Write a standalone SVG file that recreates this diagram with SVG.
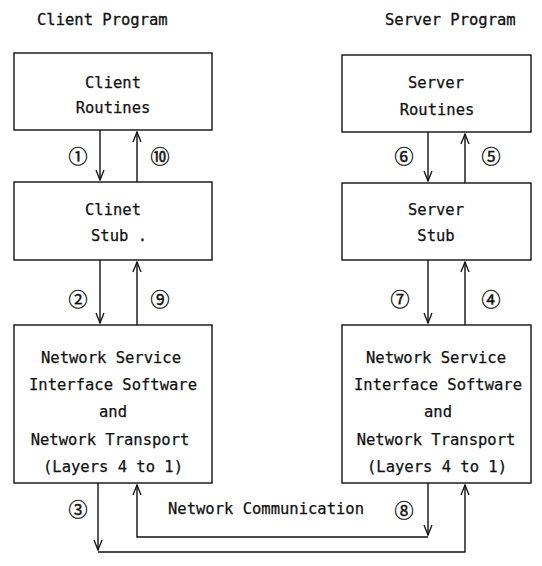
<svg xmlns="http://www.w3.org/2000/svg" width="542" height="566" viewBox="0 0 542 566">
  <defs>
    <style>
      .box { fill: #fff; stroke: #111; stroke-width: 1.4; }
      .t { font-family: "DejaVu Sans Mono", "Liberation Mono", monospace; font-size: 15.5px; fill: #111; text-anchor: middle; stroke: #111; stroke-width: 0.25; }
      .h { font-family: "DejaVu Sans Mono", "Liberation Mono", monospace; font-size: 15.5px; fill: #111; stroke: #111; stroke-width: 0.3; }
      .n { font-family: "Noto Sans CJK SC", "DejaVu Sans", sans-serif; font-size: 19px; fill: #111; text-anchor: middle; dominant-baseline: central; stroke: #111; stroke-width: 0.4; }
      .ln { fill: none; stroke: #111; stroke-width: 1.4; }
    </style>
    <!-- open chevron head, drawn along +x so orient="auto" follows the line -->
    <marker id="head" viewBox="0 0 12 10" refX="11" refY="5" markerWidth="12" markerHeight="10" markerUnits="userSpaceOnUse" orient="auto">
      <path d="M1,1 L11,5 L1,9" fill="none" stroke="#111" stroke-width="1.3"/>
    </marker>
  </defs>
  <rect width="542" height="566" fill="#fff"/>

  <text class="h" x="37" y="25">Client  Program</text>
  <text class="h" x="385" y="25">Server Program</text>

  <g id="client-routines">
    <rect class="box" x="14" y="53" width="198" height="77"/>
    <text class="t" x="113" y="88">Client</text>
    <text class="t" x="113" y="113">Routines</text>
  </g>
  <g id="client-stub">
    <rect class="box" x="14" y="182" width="198" height="78"/>
    <text class="t" x="113" y="215">Clinet</text>
    <text class="t" x="119" y="241">Stub .</text>
  </g>
  <g id="client-network">
    <rect class="box" x="14" y="325" width="198" height="158"/>
    <text class="t" x="111" y="363">Network Service</text>
    <text class="t" x="113" y="390">Interface Software</text>
    <text class="t" x="113" y="417">and</text>
    <text class="t" x="110" y="445">Network Transport</text>
    <text class="t" x="113" y="472">(Layers 4 to 1)</text>
  </g>

  <g id="server-routines">
    <rect class="box" x="342" y="55" width="189" height="77"/>
    <text class="t" x="436" y="88">Server</text>
    <text class="t" x="437" y="115">Routines</text>
  </g>
  <g id="server-stub">
    <rect class="box" x="342" y="183" width="189" height="77"/>
    <text class="t" x="436" y="215">Server</text>
    <text class="t" x="436" y="241">Stub</text>
  </g>
  <g id="server-network">
    <rect class="box" x="342" y="325" width="189" height="158"/>
    <text class="t" x="436" y="363">Network Service</text>
    <text class="t" x="438" y="390">Interface Software</text>
    <text class="t" x="438" y="417">and</text>
    <text class="t" x="436" y="445">Network Transport</text>
    <text class="t" x="437" y="472">(Layers 4 to 1)</text>
  </g>

  <g id="connectors">
    <!-- client side -->
    <line class="ln" x1="100" y1="130" x2="100" y2="180" marker-end="url(#head)"/>
    <line class="ln" x1="137" y1="182" x2="137" y2="132" marker-end="url(#head)"/>
    <line class="ln" x1="100" y1="260" x2="100" y2="323" marker-end="url(#head)"/>
    <line class="ln" x1="137" y1="325" x2="137" y2="262" marker-end="url(#head)"/>
    <!-- server side -->
    <line class="ln" x1="428" y1="132" x2="428" y2="181" marker-end="url(#head)"/>
    <line class="ln" x1="465" y1="183" x2="465" y2="134" marker-end="url(#head)"/>
    <line class="ln" x1="428" y1="260" x2="428" y2="323" marker-end="url(#head)"/>
    <line class="ln" x1="465" y1="325" x2="465" y2="262" marker-end="url(#head)"/>
    <!-- network: client to server -->
    <line class="ln" x1="98" y1="483" x2="98" y2="550" marker-end="url(#head)"/>
    <polyline class="ln" points="98,552 465,552 465,485" marker-end="url(#head)"/>
    <!-- network: server to client -->
    <line class="ln" x1="428" y1="483" x2="428" y2="535" marker-end="url(#head)"/>
    <polyline class="ln" points="428,537 137,537 137,485" marker-end="url(#head)"/>

    <text class="n" x="78" y="155">①</text>
    <text class="n" x="160" y="155">⑩</text>
    <text class="n" x="78" y="298">②</text>
    <text class="n" x="160" y="298">⑨</text>
    <text class="n" x="78" y="508">③</text>
    <text class="n" x="404" y="155">⑥</text>
    <text class="n" x="491" y="155">⑤</text>
    <text class="n" x="400" y="298">⑦</text>
    <text class="n" x="491" y="298">④</text>
    <text class="n" x="404" y="509">⑧</text>
    <text class="t" x="266" y="514">Network Communication</text>
  </g>
</svg>
